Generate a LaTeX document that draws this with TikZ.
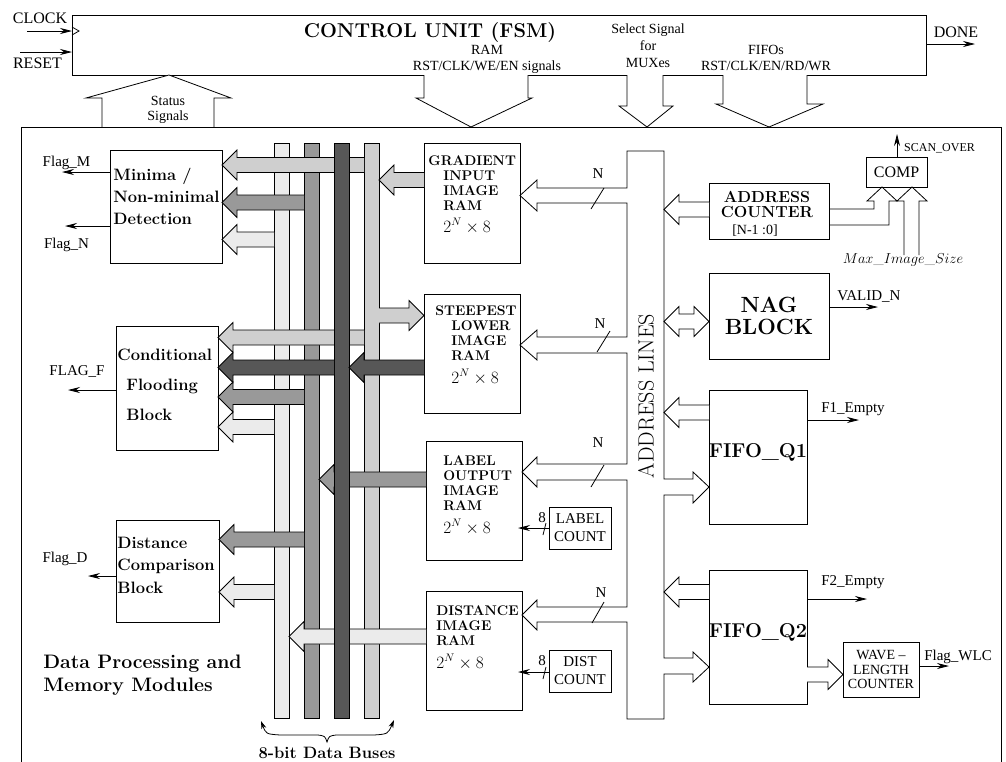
\documentclass[tikz,border=0pt]{standalone}
\usepackage{fontspec}
\usepackage{amsmath}
\newfontfamily\tms{Liberation Serif}
\usetikzlibrary{arrows.meta,calc,positioning}

\definecolor{busA}{gray}{0.92}
\definecolor{busB}{gray}{0.60}
\definecolor{busC}{gray}{0.34}
\definecolor{busD}{gray}{0.81}

\tikzset{
  blk/.style={draw, rectangle, inner sep=0pt, outer sep=0pt},
  busbar/.style={draw, rectangle, inner sep=0pt, outer sep=0pt,
                 minimum width=15pt, minimum height=575pt},
  sig/.style={-{Stealth[length=12pt,width=6pt]}},
  lbl/.style={font=\tms\fontsize{15}{18}\selectfont, inner sep=0pt},
  ctl/.style={font=\tms\fontsize{14}{16}\selectfont, inner sep=0pt, align=center},
  ramtxt/.style={font=\bfseries\fontsize{14}{15}\selectfont, inner sep=0pt,
                 anchor=north west, align=left},
  blktxt/.style={font=\bfseries\fontsize{16.5}{22}\selectfont, inner sep=0pt,
                 anchor=north west, align=left},
  dimtxt/.style={font=\fontsize{16}{18}\selectfont, inner sep=0pt, anchor=base west},
}

% wide bus arrow: fill, tail, tip, y
\newcommand{\fatarrow}[4]{%
  \draw[fill=#1] let \p1=#2, \p2=#3, \p3=(0,#4), \n1={15*sign(\x1-\x2)} in
    (\x1,\y3+7.5) -- (\x2+\n1,\y3+7.5) -- (\x2+\n1,\y3+15) -- (\x2,\y3)
    -- (\x2+\n1,\y3-15) -- (\x2+\n1,\y3-7.5) -- (\x1,\y3-7.5);}

\begin{document}
\begin{tikzpicture}[x=1pt, y=-1pt, line width=0.8pt]
\useasboundingbox (0,0) rectangle (1006,761);
\clip (0,0) rectangle (1006,761);

% control unit
\node[blk, minimum width=854pt, minimum height=60pt] (cu) at (499,45) {};
\node[font=\bfseries\fontsize{20}{22}\selectfont, inner sep=0pt, anchor=base] (cutitle) at (430,37) {CONTROL UNIT (FSM)};
\draw (cu.west |- 0,27) -- (79,31) -- (cu.west |- 0,35);
\coordinate (clk) at (27,31);
\coordinate (rst) at (20,52);
\coordinate (done) at (975,44);
\draw[sig] (clk) -- (cu.west |- clk);
\draw[sig] (rst) -- (cu.west |- rst);
\draw[sig] (cu.east |- done) -- (done);
\node[lbl, font=\tms\fontsize{16}{18}\selectfont, anchor=base] (clklbl) at (40,23) {CLOCK};
\node[lbl, font=\tms\fontsize{16}{18}\selectfont, anchor=base] (rstlbl) at (37.5,68) {RESET};
\node[lbl, font=\tms\fontsize{16}{18}\selectfont, anchor=base] (donelbl) at (956,37) {DONE};
\node[ctl] (ramsig) at (487,59) {RAM\\RST/CLK/WE/EN signals};
\node[ctl, font=\tms\fontsize{14}{17}\selectfont] (selsig) at (648,46) {Select Signal\\for\\MUXes};
\node[ctl] (fifosig) at (766,58) {FIFOs\\RST/CLK/EN/RD/WR};

% control buses
\draw[fill=white] (102,127) -- (102,98) -- (86,98) -- (169,75) -- (231,98) -- (214,98) -- (214,127);
\node[ctl, font=\tms\fontsize{14}{15}\selectfont] (stat) at (168,110) {Status\\Signals};
\draw[fill=white] (424,75) -- (424,98) -- (416,98) -- (471,127) -- (532,98) -- (528,98) -- (528,75);
\draw[fill=white] (627,75) -- (627,106) -- (619,106) -- (647,127) -- (673,106) -- (663,106) -- (663,75);
\draw[fill=white] (723,75) -- (723,104) -- (716,104) -- (769,127) -- (823,104) -- (807,104) -- (807,75);

% data processing frame
\draw (21,775) -- (21,127) -- (1001,127) -- (1001,775);

% data buses
\node[busbar, fill=busA] (b1) at (281.5,430.5) {};
\node[busbar, fill=busB] (b2) at (311.5,430.5) {};
\node[busbar, fill=busD] (b4) at (371.5,430.5) {};

% blocks
\node[blk, minimum width=112pt, minimum height=113pt] (mini) at (166,206.5) {};
\node[blk, minimum width=102pt, minimum height=124pt] (cond) at (167,388) {};
\node[blk, minimum width=103pt, minimum height=102pt] (dcmp) at (167.5,571) {};
\node[blk, minimum width=96pt, minimum height=120pt] (gram) at (472,203) {};
\node[blk, minimum width=96pt, minimum height=119pt] (sram) at (472,353.5) {};
\node[blk, minimum width=96pt, minimum height=119pt] (lram) at (474,500.5) {};
\node[blk, minimum width=96pt, minimum height=119pt] (dram) at (474,650.5) {};

\node[blktxt] (minitxt) at (113,167.6) {Minima /\\Non-minimal\\Detection};
\node[blktxt, font=\bfseries\fontsize{16.5}{30}\selectfont] (condtxt) at (117,348.5) {Conditional\\\hspace*{9pt}Flooding\\\hspace*{9pt}Block};
\node[blktxt, font=\bfseries\fontsize{16.5}{22.5}\selectfont] (dcmptxt) at (117,536.5) {Distance\\Comparison\\Block};
\node[blktxt, font=\bfseries\fontsize{19.5}{23}\selectfont] (dpm) at (43,654.5) {Data Processing and\\Memory Modules};

\node[ramtxt] (gramtxt) at (428,155.4) {GRADIENT\\\hspace*{15pt}INPUT\\\hspace*{15pt}IMAGE\\\hspace*{15pt}RAM};
\node[dimtxt] (gramsz) at (443,232) {$2^N\times 8$};
\node[ramtxt] (sramtxt) at (435,305.4) {STEEPEST\\\hspace*{16pt}LOWER\\\hspace*{16pt}IMAGE\\\hspace*{16pt}RAM};
\node[dimtxt] (sramsz) at (451,383) {$2^N\times 8$};
\node[ramtxt] (lramtxt) at (443,455.4) {LABEL\\OUTPUT\\IMAGE\\RAM};
\node[dimtxt] (lramsz) at (443,533) {$2^N\times 8$};
\node[ramtxt] (dramtxt) at (436,605.4) {DISTANCE\\IMAGE\\RAM};
\node[dimtxt] (dramsz) at (436,668) {$2^N\times 8$};

% bus taps
\fatarrow{busD}{(b4.west)}{(mini.east)}{165}
\fatarrow{busB}{(b2.west)}{(mini.east)}{202.5}
\fatarrow{busA}{(b1.west)}{(mini.east)}{239.5}
\fatarrow{busD}{(gram.west)}{(b4.east)}{180}
\fatarrow{busD}{(b4.east)}{(sram.west)}{315.5}
\fatarrow{busD}{(b4.west)}{(cond.east)}{337.5}
\fatarrow{busB}{(b2.west)}{(cond.east)}{397}
\fatarrow{busA}{(b1.west)}{(cond.east)}{427}
\fatarrow{busB}{(lram.west)}{(b2.east)}{479.5}
\fatarrow{busB}{(b2.west)}{(dcmp.east)}{539.5}
\fatarrow{busA}{(b1.west)}{(dcmp.east)}{592}
\fatarrow{busA}{(dram.west)}{(b1.east)}{636.5}
\node[busbar, fill=busC] (b3) at (341.5,430.5) {};
\fatarrow{busC}{(sram.west)}{(b3.east)}{367.5}
\fatarrow{busC}{(b3.west)}{(cond.east)}{367.5}

\draw[{Stealth[length=8pt,width=5pt]}-{Stealth[length=8pt,width=5pt]}]
  (261,721) .. controls (266,734) .. (280,735) -- (318,735)
  .. controls (325,736) .. (327,742) .. controls (329,736) .. (336,735)
  -- (374,735) .. controls (388,734) .. (394,720);
\node[font=\bfseries\fontsize{16.5}{18}\selectfont, inner sep=0pt, anchor=base] (bustxt) at (327,758) {8-bit Data Buses};

% flags on the left
\coordinate (fm) at (62,172);
\coordinate (fn) at (65,226);
\coordinate (ff) at (68,390);
\coordinate (fd) at (88,576);
\draw[sig] (mini.west |- fm) -- (fm);
\draw[sig] (mini.west |- fn) -- (fn);
\draw[sig] (cond.west |- ff) -- (ff);
\draw[sig] (dcmp.west |- fd) -- (fd);
\node[lbl, anchor=base] (fmlbl) at (66.5,166) {Flag\_M};
\node[lbl, anchor=base] (fnlbl) at (66.5,248) {Flag\_N};
\node[lbl, anchor=base] (fflbl) at (77,375) {FLAG\_F};
\node[lbl, anchor=base] (fdlbl) at (65,562) {Flag\_D};

% counters
\node[blk, lbl, minimum width=62pt, minimum height=42pt, align=center] (lcnt) at (580,528) {LABEL\\COUNT};
\node[blk, lbl, minimum width=62pt, minimum height=42pt, align=center] (dcnt) at (580,671) {DIST\\COUNT};
\coordinate (lin) at (518,528);
\coordinate (din) at (518,672);
\draw[sig] (lcnt.west |- lin) -- (lin);
\draw[sig] (dcnt.west |- din) -- (din);
\draw (543,535) -- (546,523);
\draw (543,679) -- (546,667);
\node[lbl, anchor=base] (lw) at (542,522) {8};
\node[lbl, anchor=base] (dw) at (542,665) {8};

% address lines
\coordinate (busR) at (664,151);
\draw (664,479) -- (664,151) -- (627,151) -- (627,188) -- (537,188) -- (537,180)
  -- (gram.east |- 0,195.5) -- (537,211) -- (537,203) -- (627,203) -- (627,337)
  -- (537,337) -- (537,330) -- (sram.east |- 0,345) -- (537,360) -- (537,353)
  -- (627,353) -- (627,464) -- (537,464) -- (537,457) -- (lram.east |- 0,472)
  -- (537,487) -- (537,480) -- (627,480) -- (627,607) -- (537,607) -- (537,600)
  -- (dram.east |- 0,615) -- (537,630) -- (537,622) -- (627,622) -- (627,719)
  -- (664,719) -- (664,674) -- (693,674) -- (693,682) -- (709,667) -- (693,652)
  -- (693,658) -- (664,658) -- (664,495) -- (693,495) -- (693,503) -- (709,487)
  -- (693,472) -- (693,479) -- cycle;
\node[rotate=90, font=\fontsize{22}{24}\selectfont, inner sep=0pt] (addrtxt) at (646,396) {ADDRESS LINES};
\draw (591,209) -- (604,188);
\draw (597,352) -- (610,331);
\draw (591,487) -- (604,465);
\draw (592,623) -- (604,602);
\node[lbl, anchor=base] (n1) at (598,178) {N};
\node[lbl, anchor=base] (n2) at (600,328) {N};
\node[lbl, anchor=base] (n3) at (598,447) {N};
\node[lbl, anchor=base] (n4) at (601,597) {N};

% right side modules
\node[blk, minimum width=120pt, minimum height=56pt] (acnt) at (769,211) {};
\node[font=\bfseries\fontsize{16}{15}\selectfont, align=center, inner sep=0pt] (acnttxt) at (767,204) {ADDRESS\\COUNTER};
\node[lbl, font=\tms\fontsize{14}{16}\selectfont, anchor=base] (acntrng) at (755,234) {[N-1 :0]};
\node[blk, lbl, font=\tms\fontsize{16}{18}\selectfont, minimum width=61pt, minimum height=30pt] (comp) at (896.5,172) {COMP};
\node[blk, font=\bfseries\fontsize{22}{22}\selectfont, align=center, minimum width=120pt, minimum height=86pt] (nag) at (769,316) {NAG\\BLOCK};
\node[blk, minimum width=98pt, minimum height=134pt] (fq1) at (758,457) {};
\node[font=\bfseries\fontsize{20}{22}\selectfont, inner sep=0pt] (fq1txt) at (758,452) {FIFO\_Q1};
\node[blk, minimum width=98pt, minimum height=134pt] (fq2) at (758,637) {};
\node[font=\bfseries\fontsize{20}{22}\selectfont, inner sep=0pt] (fq2txt) at (758,632) {FIFO\_Q2};
\node[blk, font=\tms\fontsize{14}{14.5}\selectfont, align=center, minimum width=76pt, minimum height=55pt] (wlc) at (881,669.5) {WAVE –\\LENGTH\\COUNTER};

\fatarrow{white}{(acnt.west)}{(busR)}{209.5}
\fatarrow{white}{(fq1.west)}{(busR)}{412.5}
\fatarrow{white}{(fq2.west)}{(busR)}{592}
\fatarrow{white}{(fq2.east)}{(wlc.west)}{674.5}
\draw[fill=white] (busR |- 0,321.5) -- (679,306.5) -- (679,314) -- (694,314) -- (694,306.5)
  -- (nag.west |- 0,321.5) -- (694,336.5) -- (694,329) -- (679,329) -- (679,336.5) -- cycle;

\draw (acnt.east |- 0,209) -- (874,209) -- (874,201) -- (867,201) -- (comp.south -| 882,0)
  -- (897,201) -- (889,201) -- (889,225) -- (acnt.east |- 0,225);
\draw (904,255) -- (904,201) -- (897,201) -- (comp.south -| 912,0) -- (927,201) -- (919,201) -- (919,255);
\node[inner sep=0pt, font=\fontsize{15}{17}\selectfont] (maxsz) at (903,260) {$Max\_Image\_Size$};

\coordinate (scan) at (897,134);
\coordinate (valid) at (878,307);
\coordinate (f1e) at (859,420);
\coordinate (f2e) at (867,599);
\coordinate (wlcf) at (949,666);
\draw[sig] (comp.north -| scan) -- (scan);
\draw[sig] (nag.east |- valid) -- (valid);
\draw[sig] (fq1.east |- f1e) -- (f1e);
\draw[sig] (fq2.east |- f2e) -- (f2e);
\draw[sig] (wlc.east |- wlcf) -- (wlcf);
\node[lbl, font=\tms\fontsize{12}{14}\selectfont, anchor=base] (scanlbl) at (939.5,151) {SCAN\_OVER};
\node[lbl, anchor=base] (validlbl) at (869,300) {VALID\_N};
\node[lbl, anchor=base] (f1lbl) at (853,412) {F1\_Empty};
\node[lbl, anchor=base] (f2lbl) at (853,585) {F2\_Empty};
\node[lbl, anchor=base] (wlclbl) at (958,660) {Flag\_WLC};
\end{tikzpicture}
\end{document}
